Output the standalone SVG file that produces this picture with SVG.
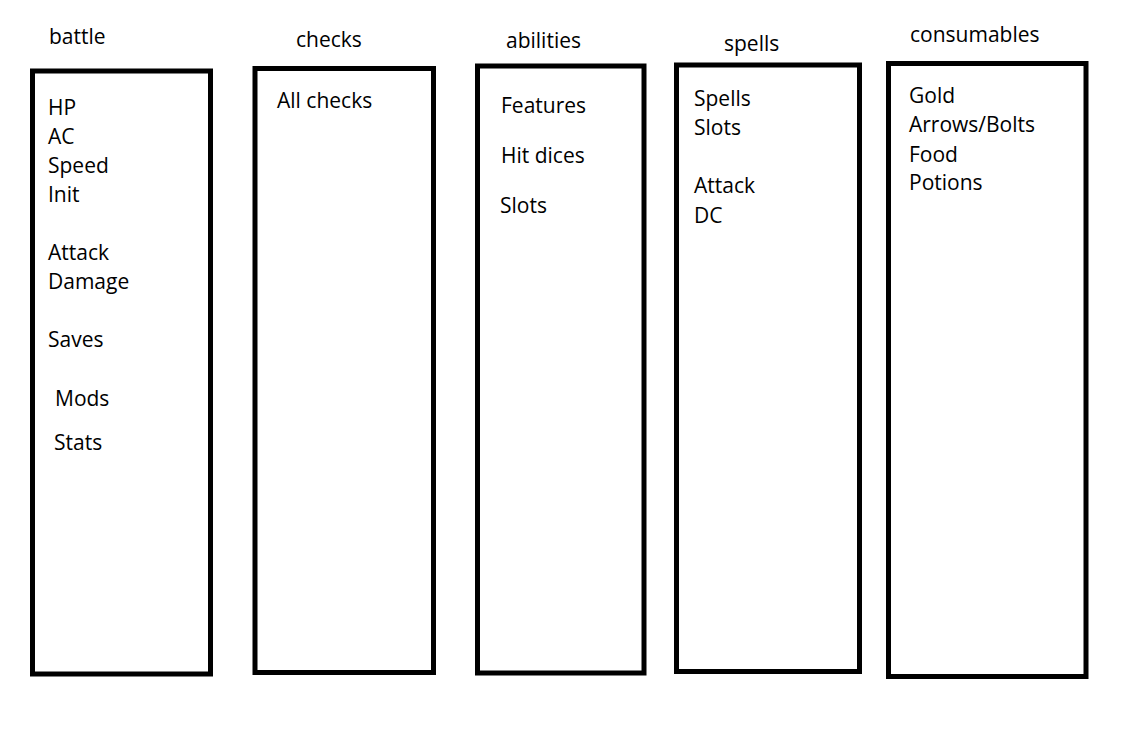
<svg xmlns="http://www.w3.org/2000/svg" width="1128" height="739" viewBox="0 0 1128 739">
  <style>
    .panel { fill: #ffffff; stroke: #000000; stroke-width: 5; }
    text { font-family: "Open Sans", "Noto Sans", "Liberation Sans", sans-serif; font-size: 21px; fill: #000000; }
  </style>
  <rect x="0" y="0" width="1128" height="739" fill="#ffffff"/>

  <!-- battle column -->
  <g id="battle">
    <text x="49" y="44">battle</text>
    <rect class="panel" x="32.5" y="71" width="178" height="603"/>
    <text x="48" y="115">HP</text>
    <text x="48" y="144">AC</text>
    <text x="48" y="173">Speed</text>
    <text x="48" y="202">Init</text>
    <text x="48" y="260">Attack</text>
    <text x="48" y="289">Damage</text>
    <text x="48" y="347">Saves</text>
    <text x="55" y="406">Mods</text>
    <text x="54" y="450">Stats</text>
  </g>

  <!-- checks column -->
  <g id="checks">
    <text x="296" y="47">checks</text>
    <rect class="panel" x="255" y="68.5" width="178.5" height="604"/>
    <text x="277" y="108">All checks</text>
  </g>

  <!-- abilities column -->
  <g id="abilities">
    <text x="506" y="48">abilities</text>
    <rect class="panel" x="477.5" y="66" width="166.5" height="607"/>
    <text x="501" y="113">Features</text>
    <text x="501" y="163">Hit dices</text>
    <text x="500" y="213">Slots</text>
  </g>

  <!-- spells column -->
  <g id="spells">
    <text x="724" y="51">spells</text>
    <rect class="panel" x="676.5" y="65" width="183" height="606.5"/>
    <text x="694" y="106">Spells</text>
    <text x="694" y="135">Slots</text>
    <text x="694" y="193">Attack</text>
    <text x="694" y="223">DC</text>
  </g>

  <!-- consumables column -->
  <g id="consumables">
    <text x="910" y="42">consumables</text>
    <rect class="panel" x="888.5" y="63.5" width="197.5" height="613"/>
    <text x="909" y="103">Gold</text>
    <text x="909" y="132">Arrows/Bolts</text>
    <text x="909" y="162">Food</text>
    <text x="909" y="190">Potions</text>
  </g>

  <g id="connectors"/>
</svg>
